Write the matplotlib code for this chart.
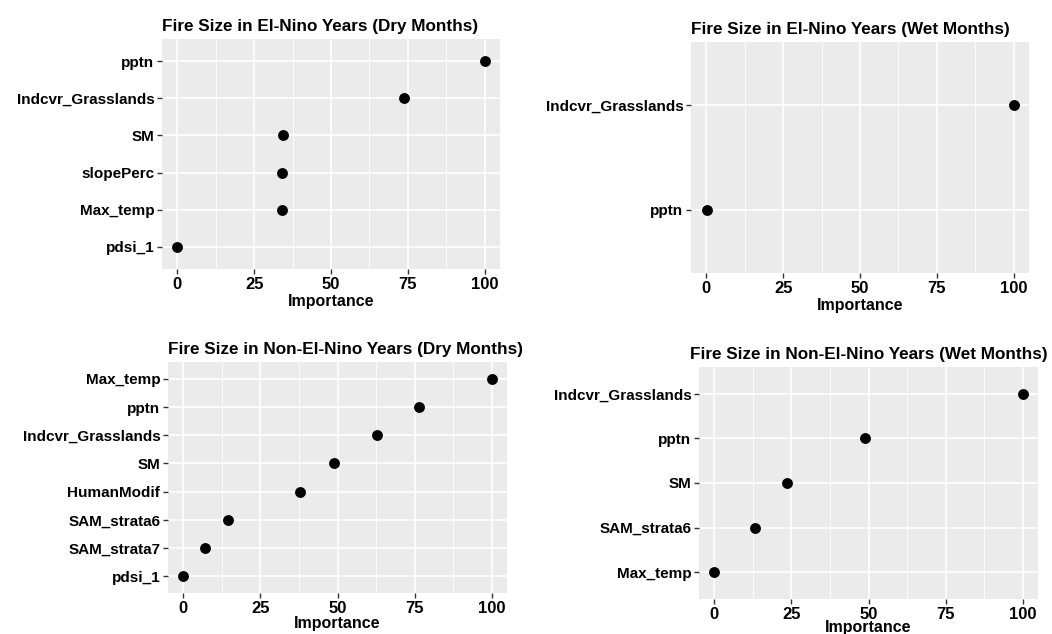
import matplotlib.pyplot as plt
from matplotlib.ticker import MultipleLocator

plt.rcParams['font.family'] = ['Liberation Sans', 'DejaVu Sans']
plt.rcParams['font.weight'] = 'bold'

# variable importance per panel (listed top to bottom)
dry_nino_vars = ["pptn", "Indcvr_Grasslands", "SM", "slopePerc", "Max_temp", "pdsi_1"]
dry_nino_imp = [100, 73.8, 34.3, 34.0, 34.0, 0]

wet_nino_vars = ["Indcvr_Grasslands", "pptn"]
wet_nino_imp = [100, 0.1]

dry_non_vars = ["Max_temp", "pptn", "Indcvr_Grasslands", "SM", "HumanModif",
                "SAM_strata6", "SAM_strata7", "pdsi_1"]
dry_non_imp = [100, 76.4, 62.7, 49.0, 37.9, 14.4, 7.0, 0]

wet_non_vars = ["Indcvr_Grasslands", "pptn", "SM", "SAM_strata6", "Max_temp"]
wet_non_imp = [100, 48.9, 23.7, 13.1, 0]

titles = ["Fire Size in El-Nino Years (Dry Months)",
          "Fire Size in El-Nino Years (Wet Months)",
          "Fire Size in Non-El-Nino Years (Dry Months)",
          "Fire Size in Non-El-Nino Years (Wet Months)"]

W, H = 1052, 634
fig = plt.figure(figsize=(W / 100, H / 100), dpi=100)


def px_axes(x0, y0, x1, y1):
    return fig.add_axes([x0 / W, 1 - y1 / H, (x1 - x0) / W, (y1 - y0) / H])


def importance_panel(ax, names, vals, title, title_dx=0, xlab_pad=1.5):
    n = len(names)
    ypos = list(range(n, 0, -1))
    ax.set_facecolor('#EBEBEB')
    ax.plot(vals, ypos, 'o', color='black', ms=6.8, zorder=3)
    ax.set_xlim(-5, 105)
    ax.set_ylim(0.4, n + 0.6)
    ax.xaxis.set_major_locator(MultipleLocator(25))
    ax.xaxis.set_minor_locator(MultipleLocator(12.5))
    ax.set_yticks(ypos)
    ax.set_yticklabels(names)
    ax.grid(True, which='major', color='white', lw=1.2)
    ax.grid(True, which='minor', axis='x', color='white', lw=0.6)
    ax.set_axisbelow(True)
    for s in ax.spines.values():
        s.set_visible(False)
    ax.tick_params(axis='x', which='minor', length=0)
    ax.tick_params(axis='both', which='major', length=3.5, width=1.0,
                   color='#333333', pad=2)
    ax.tick_params(axis='x', labelsize=12)
    ax.tick_params(axis='y', labelsize=11)
    for lab in ax.get_xticklabels() + ax.get_yticklabels():
        lab.set_fontweight('bold')
    ax.set_xlabel("Importance", fontsize=11.5, fontweight='bold', labelpad=xlab_pad)
    t = ax.set_title(title, loc='left', fontsize=12.3, fontweight='bold', pad=6)
    if title_dx:
        bb = ax.get_position()
        t.set_x(title_dx / (bb.width * W))


importance_panel(px_axes(162, 39, 500, 269), dry_nino_vars, dry_nino_imp, titles[0])
importance_panel(px_axes(691, 42, 1029, 273), wet_nino_vars, wet_nino_imp, titles[1])
importance_panel(px_axes(168, 362, 507, 593), dry_non_vars, dry_non_imp, titles[2],
                 xlab_pad=0)
importance_panel(px_axes(699, 367, 1038, 599), wet_non_vars, wet_non_imp, titles[3],
                 title_dx=-9, xlab_pad=-1.5)

fig.savefig("out.png", dpi=100)
